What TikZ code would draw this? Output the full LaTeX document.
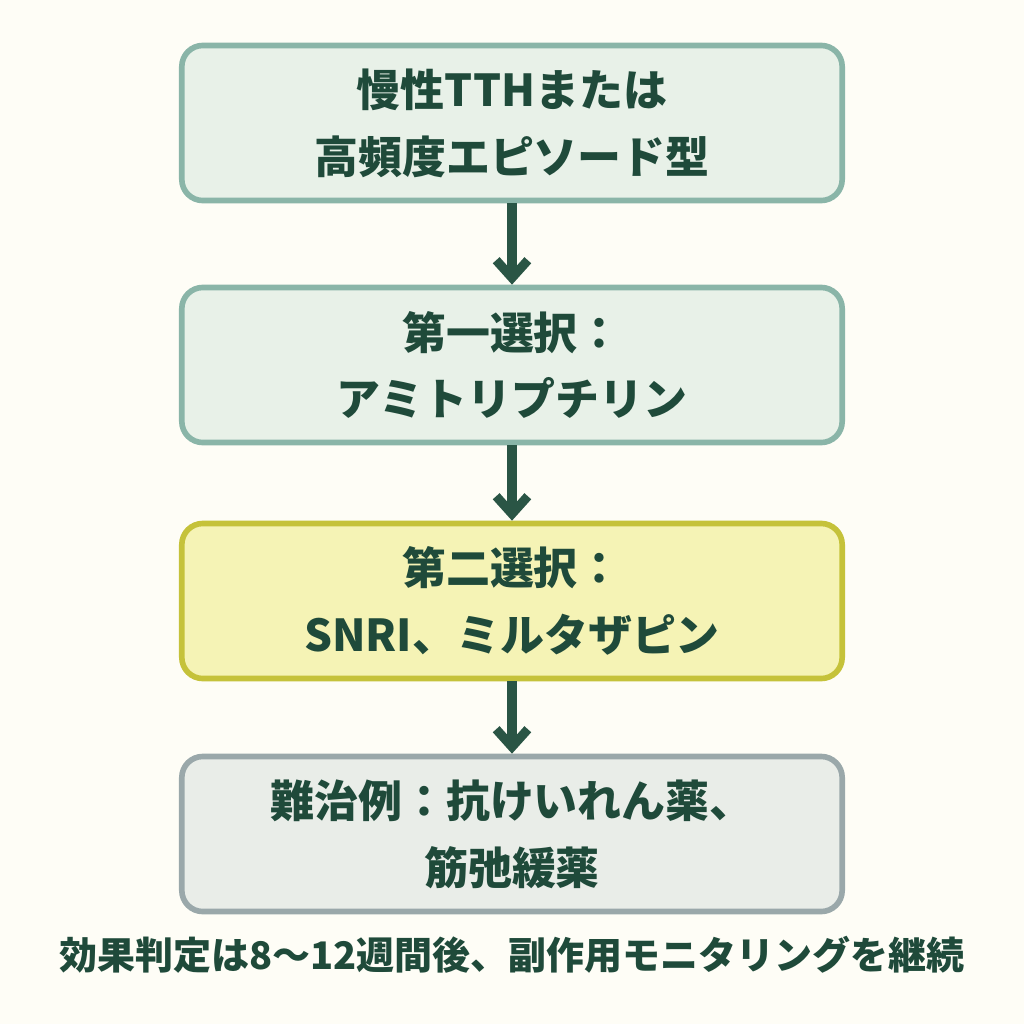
\documentclass[tikz,border=0pt]{standalone}
\usepackage{fontspec}
\setmainfont{Noto Sans CJK JP}
\usetikzlibrary{positioning,arrows.meta}
\definecolor{bgcol}{HTML}{FEFDF6}
\definecolor{txtcol}{HTML}{1F4A3A}
\definecolor{arrcol}{HTML}{2A5545}
\definecolor{greenfill}{HTML}{E8F1E8}
\definecolor{greenline}{HTML}{8AB5A8}
\definecolor{yellowfill}{HTML}{F5F3B5}
\definecolor{yellowline}{HTML}{C5C23A}
\definecolor{greyfill}{HTML}{E9EDE8}
\definecolor{greyline}{HTML}{9AA8AA}
\tikzset{
  stepbox/.style={draw=greenline, fill=greenfill, line width=1.6pt, rounded corners=6pt,
    minimum width=6.6cm, minimum height=1.55cm, align=center, text=txtcol,
    font=\fontsize{12.5}{19}\selectfont\bfseries},
  flowarrow/.style={draw=arrcol, line width=2.6pt, ->, >={Straight Barb[length=5pt,width=9pt]}}
}
\begin{document}
\begin{tikzpicture}[x=0.01cm, y=-0.01cm]
  \fill[bgcol] (0,0) rectangle (1024,1024);
  \useasboundingbox (0,0) rectangle (1024,1024);

  % boxes
  \node[stepbox] (tth) at (512,123) {慢性TTHまたは\\高頻度エピソード型};
  \node[stepbox] (first) at (512,365) {第一選択：\\アミトリプチリン};
  \node[stepbox, draw=yellowline, fill=yellowfill] (second) at (512,601) {第二選択：\\SNRI、ミルタザピン};
  \node[stepbox, draw=greyline, fill=greyfill] (hard) at (512,834) {難治例：抗けいれん薬、\\筋弛緩薬};

  % arrows
  \draw[flowarrow] (tth) -- (first);
  \draw[flowarrow] (first) -- (second);
  \draw[flowarrow] (second) -- (hard);

  % note
  \node[text=txtcol, font=\fontsize{10.8}{13}\selectfont\bfseries] (note) at (512,955) {効果判定は8〜12週間後、副作用モニタリングを継続};
\end{tikzpicture}
\end{document}
